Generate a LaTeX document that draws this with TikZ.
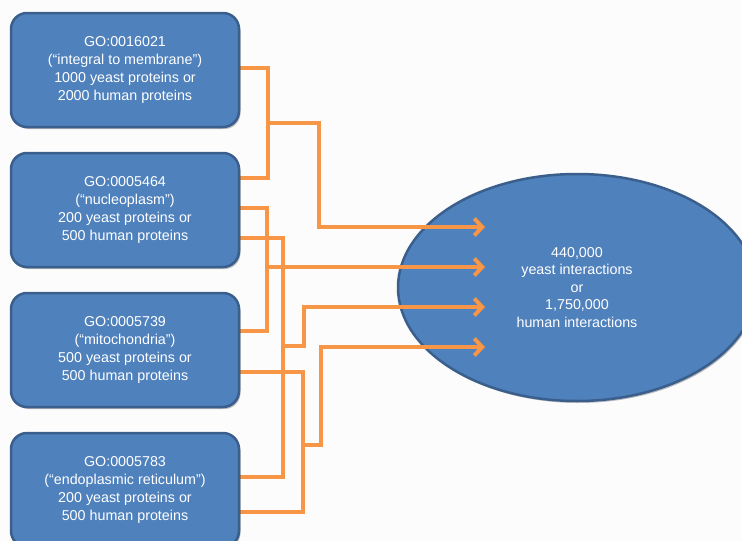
\documentclass[tikz,border=0pt]{standalone}
\usepackage{fontspec}
\setmainfont{Liberation Sans}
\usetikzlibrary{arrows.meta,shadows,shapes.geometric}
\definecolor{boxblue}{HTML}{4F81BD}
\definecolor{boxedge}{HTML}{3A5F8C}
\definecolor{linkorange}{HTML}{F79646}
\pgfdeclarelayer{under}
\pgfdeclarelayer{lines}
\pgfsetlayers{under,lines,main}
\begin{document}
\begin{tikzpicture}[x=1pt,y=-1pt,
  gobox/.style={draw=boxedge, line width=2.5pt, fill=boxblue, rounded corners=16pt,
    minimum width=228pt, minimum height=114pt, text=white, align=center, inner sep=0pt,
    font=\fontsize{14.3}{17.7}\selectfont,
    drop shadow={shadow xshift=1.5pt, shadow yshift=-2pt, opacity=0.25, fill=black}},
  target/.style={ellipse, draw=boxedge, line width=2.5pt, fill=boxblue, inner sep=0pt,
    minimum width=358pt, minimum height=227pt, text=white, align=center,
    font=\fontsize{14.3}{17.5}\selectfont,
    drop shadow={shadow xshift=1.5pt, shadow yshift=-2pt, opacity=0.25, fill=black}},
  link/.style={draw=linkorange, line width=4pt},
  arrowlink/.style={link, -{Straight Barb[length=8pt,width=17pt]}}]
\useasboundingbox (0,0) rectangle (742,541);
\clip (0,0) rectangle (742,541);

\begin{pgfonlayer}{under}
\fill[white!99!black] (0,0) rectangle (742,541);
\node[target] (e) at (577,287.5) {440,000\\yeast interactions\\or\\1,750,000\\human interactions};
\end{pgfonlayer}

\node[gobox] (b1) at (125,70) {GO:0016021\\(“integral to membrane”)\\1000 yeast proteins or\\2000 human proteins};
\node[gobox] (b2) at (125,210) {GO:0005464\\(“nucleoplasm”)\\200 yeast proteins or\\500 human proteins};
\node[gobox] (b3) at (125,350) {GO:0005739\\(“mitochondria”)\\500 yeast proteins or\\500 human proteins};
\node[gobox] (b4) at (125,490) {GO:0005783\\(“endoplasmic reticulum”)\\200 yeast proteins or\\500 human proteins};

% junction points and arrow ends
\coordinate (j1) at (268,123);
\coordinate (j2) at (267,267);
\coordinate (j3) at (283,346);
\coordinate (j4) at (303,445);
\coordinate (a1) at (485,227);
\coordinate (a2) at (485,267);
\coordinate (a3) at (485,307);
\coordinate (a4) at (485,347);

\begin{pgfonlayer}{lines}
% brackets joining pairs of boxes
\draw[link] (b1.east |- 0,68) -| (268,178) -- (b2.east |- 0,178);
\draw[link] (b2.east |- 0,208) -| (267,331) -- (b3.east |- 0,331);
\draw[link] (b2.east |- 0,238) -| (283,477) -- (b4.east |- 0,477);
\draw[link] (b3.east |- 0,372) -| (303,512) -- (b4.east |- 0,512);

% arrows to the ellipse
\draw[arrowlink] (j1) -| (319,227) -- (a1);
\draw[arrowlink] (j2) -- (a2);
\draw[arrowlink] (j3) -| (304,307) -- (a3);
\draw[arrowlink] (j4) -| (321,347) -- (a4);
\end{pgfonlayer}
\end{tikzpicture}
\end{document}
